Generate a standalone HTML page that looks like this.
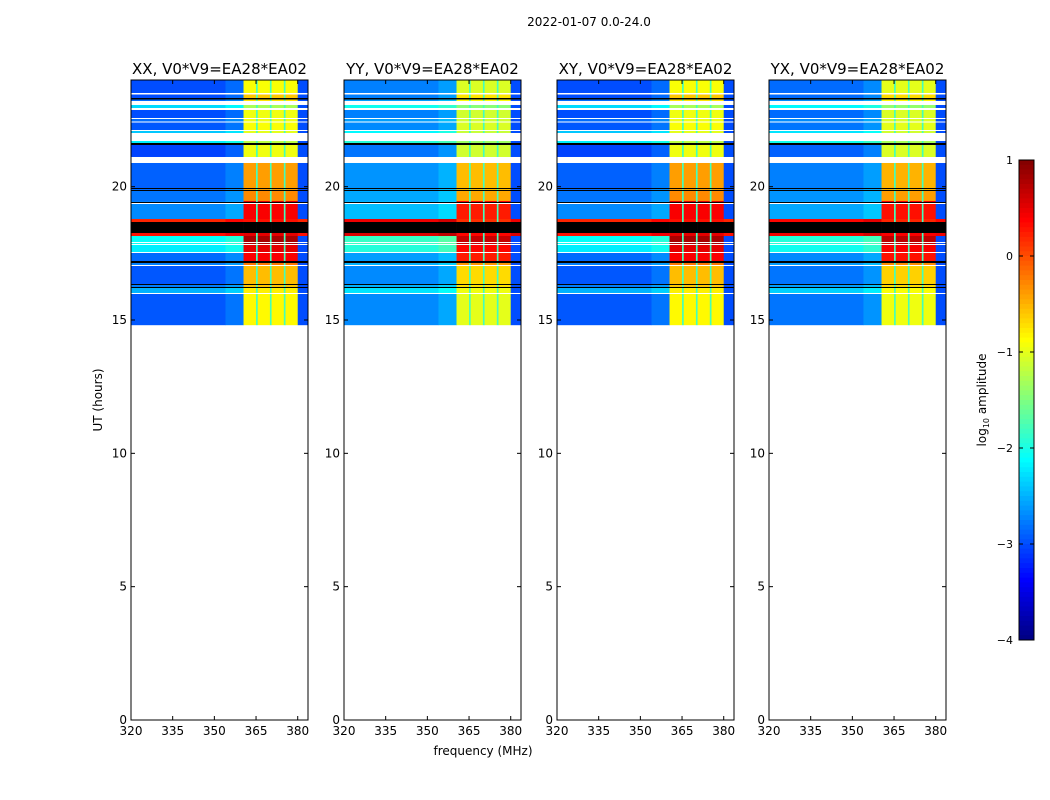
<!DOCTYPE html>
<html><head><meta charset="utf-8"><style>
body{margin:0;background:#fff;}
svg{display:block;font-family:"DejaVu Sans","Liberation Sans",sans-serif;}
</style></head><body>
<svg id="fig" width="1050" height="800" viewBox="0 0 1050 800" xmlns="http://www.w3.org/2000/svg">
<text x="589" y="26" font-size="12" text-anchor="middle">2022-01-07 0.0-24.0</text>
<text x="483" y="755" font-size="12" text-anchor="middle">frequency (MHz)</text>
<text x="102" y="400" font-size="12" text-anchor="middle" transform="rotate(-90 102 400)">UT (hours)</text>
<g id="panels"></g>
<g id="cbar"></g>
</svg>
<script>
// ---- data ----
const panelTitles = ["XX, V0*V9=EA28*EA02","YY, V0*V9=EA28*EA02","XY, V0*V9=EA28*EA02","YX, V0*V9=EA28*EA02"];
const xTicks = [320,335,350,365,380];
const yTicks = [0,5,10,15,20];
const cbarTicks = [1,0,-1,-2,-3,-4];
// time band edges (hours, descending); band i spans bandEdges[i]..bandEdges[i+1]
const bandEdges = [24.0,23.513,23.456,23.325,23.269,23.213,23.063,22.95,22.875,22.575,22.538,22.444,22.406,22.125,22.088,22.013,21.713,21.638,21.563,21.113,20.888,19.95,19.913,19.875,19.838,19.463,19.425,19.388,19.35,18.788,18.675,18.263,18.15,17.925,17.888,17.85,17.813,17.55,17.513,17.213,17.138,17.063,17.025,16.35,16.313,16.238,16.2,16.013,15.975,14.813];
// log10 amplitude per band; null = missing (white), 9 = flagged (black)
const leftVal   = [-3.0,null,-3.0,9,-2.85,null,-2.3,null,-3.0,null,-2.85,null,-2.95,null,-2.4,null,-2.2,9,-3.05,null,-2.9,9,-2.85,9,-2.8,-2.75,9,null,-2.7,0.2,9,0.3,-2.1,null,-2.1,null,-2.2,null,-2.85,9,-2.75,null,-2.95,9,-2.75,9,-2.5,null,-2.95];
const brightVal = [-0.9,null,-0.6,9,-0.75,null,-1.3,null,-0.95,null,-0.95,null,-0.9,null,-1.0,null,-1.2,9,-0.95,null,-0.4,9,-0.4,9,-0.3,0.5,9,null,0.4,0.3,9,0.5,0.8,null,0.8,null,0.5,null,0.4,9,-0.2,null,-0.55,9,-0.6,9,-0.8,null,-0.85];
const panelLeftOffset   = [0.0,0.25,0.0,0.15];
const panelBrightOffset = [0.0,-0.15,0.0,-0.1];
// frequency layout (MHz)
const brightBlocks = [[360.5,365.0],[365.6,370.0],[370.6,375.0],[375.6,380.0]];
const stripeVal = -1.8;
const edgeBoost = 0.15;  // 354-360.5 transition
const rightVal = -3.0;  // 380-383.7

// ---- layout ----
const NS="http://www.w3.org/2000/svg";
const panelLeft=[131,344,557,769], PW=177, PT=80, PB=720;
const F0=320, F1=383.7, H0=0, H1=24;
function xs(i,f){return panelLeft[i]+(f-F0)/(F1-F0)*PW;}
function ys(h){return PB-(h-H0)/(H1-H0)*(PB-PT);}
function clamp(v){return Math.max(0,Math.min(1,v));}
function jet(v){
  if(v===null) return "#ffffff";
  if(v>=9) return "#000000";
  const t=clamp((v+4)/5);
  const r=clamp(1.5-Math.abs(4*t-3)), g=clamp(1.5-Math.abs(4*t-2)), b=clamp(1.5-Math.abs(4*t-1));
  return "rgb("+Math.round(r*255)+","+Math.round(g*255)+","+Math.round(b*255)+")";
}
function mk(tag,attrs,parent){const e=document.createElementNS(NS,tag);for(const k in attrs)e.setAttribute(k,attrs[k]);parent.appendChild(e);return e;}
function special(v){return v===null||v>=9;}
function adj(v,o){return special(v)?v:v+o;}

const panels=document.getElementById('panels');
for(let p=0;p<4;p++){
  const g=mk('g',{},panels);
  
  
  const hm=mk('g',{},g);
  
  
  for(let b=0;b<leftVal.length;b++){
    const y0=ys(bandEdges[b]), y1=ys(bandEdges[b+1]), h=y1-y0;
    const lv=adj(leftVal[b],panelLeftOffset[p]);
    const bv=adj(brightVal[b],panelBrightOffset[p]);
    const segs=[];
    segs.push([F0,354,lv]);
    segs.push([354,360.5,special(lv)?lv:lv+edgeBoost]);
    for(let k=0;k<brightBlocks.length;k++){
      segs.push([brightBlocks[k][0],brightBlocks[k][1],bv]);
      if(k<brightBlocks.length-1){
        segs.push([brightBlocks[k][1],brightBlocks[k+1][0],special(bv)?bv:stripeVal]);
      }
    }
    segs.push([380,F1,special(lv)?lv:(lv>-1?lv:rightVal)]);
    for(const s of segs){
      const r=mk('rect',{x:xs(p,s[0]).toFixed(2),y:y0.toFixed(2),width:(xs(p,s[1])-xs(p,s[0])+0.3).toFixed(2),height:(h+0.2).toFixed(2),fill:jet(s[2])},hm);
      
      
    }
  }
  const frame=mk('rect',{x:panelLeft[p],y:PT,width:PW,height:PB-PT,fill:'none',stroke:'#000','stroke-width':1},g);
  
  
  const t=mk('text',{x:panelLeft[p]+PW/2,y:74,'font-size':15,'text-anchor':'middle'},g);
  t.textContent=panelTitles[p];
  
  
  for(const v of xTicks){
    const x=xs(p,v);
    mk('line',{x1:x,y1:PB,x2:x,y2:PB-4,stroke:'#000'},g);
    mk('line',{x1:x,y1:PT,x2:x,y2:PT+4,stroke:'#000'},g);
    const l=mk('text',{x:x,y:PB+15,'font-size':12,'text-anchor':'middle'},g);
    l.textContent=v;
    
    
  }
  for(const v of yTicks){
    const y=ys(v);
    mk('line',{x1:panelLeft[p],y1:y,x2:panelLeft[p]+4,y2:y,stroke:'#000'},g);
    mk('line',{x1:panelLeft[p]+PW,y1:y,x2:panelLeft[p]+PW-4,y2:y,stroke:'#000'},g);
    const l=mk('text',{x:panelLeft[p]-4,y:y+4,'font-size':12,'text-anchor':'end'},g);
    l.textContent=v;
    
    
  }
}

// colorbar
const cb=document.getElementById('cbar');


const CX=1019, CW=15, CT=160, CB=640;
const N=100;
for(let i=0;i<N;i++){
  const v=1-5*(i+0.5)/N;
  mk('rect',{x:CX,y:(CT+i*(CB-CT)/N).toFixed(2),width:CW,height:((CB-CT)/N+0.4).toFixed(2),fill:jet(v)},cb);
}
mk('rect',{x:CX,y:CT,width:CW,height:CB-CT,fill:'none',stroke:'#000'},cb);
for(const v of cbarTicks){
  const y=CT+(1-v)/5*(CB-CT);
  mk('line',{x1:CX,y1:y,x2:CX+4,y2:y,stroke:'#000'},cb);
  mk('line',{x1:CX+CW,y1:y,x2:CX+CW-4,y2:y,stroke:'#000'},cb);
  const l=mk('text',{x:1013,y:y+4,'font-size':11,'text-anchor':'end'},cb);
  l.textContent=(v<0?'\u2212'+(-v):v);
  
  
}
const cl=mk('text',{x:986,y:400,'font-size':12,'text-anchor':'middle',transform:'rotate(-90 986 400)'},cb);


cl.innerHTML='log<tspan font-size="8" dy="3">10</tspan><tspan dy="-3"> amplitude</tspan>';
</script>
</body></html>
